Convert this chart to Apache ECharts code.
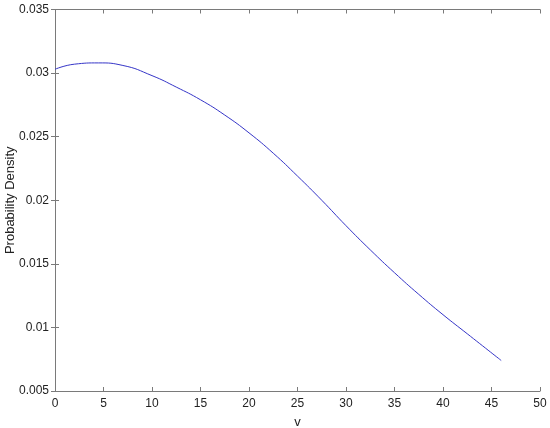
<!DOCTYPE html>
<html>
<head>
    <meta charset="UTF-8">
    <title>Probability Density</title>
    <script src="https://cdn.jsdelivr.net/npm/echarts@6/dist/echarts.min.js"></script>
    <style>
        html, body { margin: 0; padding: 0; background: #fff; }
    </style>
</head>
<body>
    <div id="chart" style="width: 550px; height: 428px;"></div>
    <script type="text/javascript">
        // values
        var vValues = [0, 2, 4.5, 7, 10, 12.5, 15, 17.5, 20, 22.5, 25, 27.5, 30, 32.5, 35, 37.5, 40, 42.5, 46];
        var densityValues = [0.0303, 0.0307, 0.0308, 0.0306, 0.0298, 0.0289, 0.0279, 0.0267, 0.0253, 0.0237,
                             0.0219, 0.0200, 0.0180, 0.0161, 0.0143, 0.0126, 0.0110, 0.0095, 0.0074];

        var axisColor = '#7a7a7a';
        var fontFamily = 'Liberation Sans, Arial, sans-serif';

        var points = vValues.map(function (v, i) { return [v, densityValues[i]]; });

        var chart = echarts.init(document.getElementById('chart'));

        // ticks point inwards on all four sides, like the original
        function boxAxis(extra) {
            var base = {
                type: 'value',
                axisLine: { show: true, lineStyle: { color: axisColor, width: 1 } },
                axisTick: { show: true, inside: true, length: 4, lineStyle: { color: axisColor } },
                splitLine: { show: false },
                axisLabel: { show: false }
            };
            return Object.assign(base, extra);
        }

        var option = {
            animation: false,
            backgroundColor: '#fff',
            grid: { left: 55, right: 10, top: 9.5, bottom: 37, outerBoundsMode: 'none', containLabel: false },
            xAxis: [
                boxAxis({
                    min: 0, max: 50, interval: 5,
                    name: 'v', nameLocation: 'middle', nameGap: 25, nameMoveOverlap: false,
                    nameTextStyle: { color: '#222', fontSize: 13, fontFamily: fontFamily },
                    axisLabel: { show: true, color: '#222', fontSize: 12, fontFamily: fontFamily, margin: 7 }
                }),
                boxAxis({ position: 'top', min: 0, max: 50, interval: 5 })
            ],
            yAxis: [
                boxAxis({
                    min: 0.005, max: 0.035, interval: 0.005,
                    name: 'Probability Density', nameLocation: 'middle', nameGap: 38, nameMoveOverlap: false,
                    nameTextStyle: { color: '#222', fontSize: 13, fontFamily: fontFamily },
                    axisLabel: { show: true, color: '#222', fontSize: 12, fontFamily: fontFamily, margin: 6 }
                }),
                boxAxis({ position: 'right', min: 0.005, max: 0.035, interval: 0.005 })
            ],
            series: [
                {
                    type: 'line',
                    data: points,
                    smooth: true,
                    showSymbol: false,
                    lineStyle: { color: '#3535c8', width: 1 }
                }
            ]
        };

        chart.setOption(option);
    </script>
</body>
</html>
